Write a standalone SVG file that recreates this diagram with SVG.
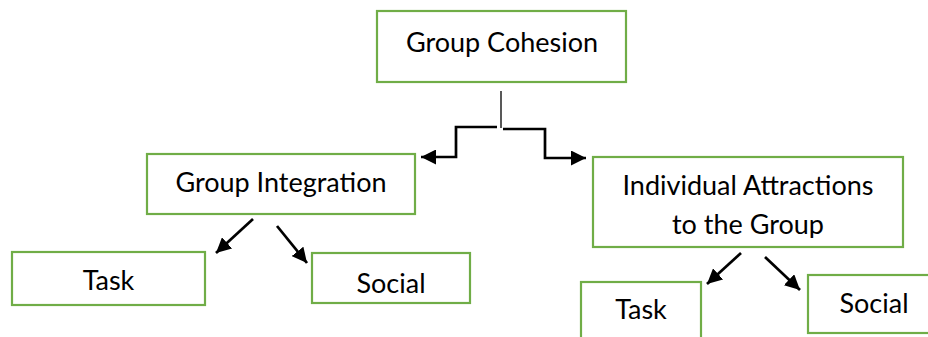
<svg xmlns="http://www.w3.org/2000/svg" width="928" height="337" viewBox="0 0 928 337">
<style>
.box{fill:#fff;stroke:#70AD47;stroke-width:2.2}
.t{font-family:Lato,"Open Sans","Liberation Sans",sans-serif;font-size:27px;fill:#000;text-anchor:middle}
.c{fill:none;stroke:#000;stroke-width:2.7}
</style>
<defs>
<marker id="ah" viewBox="0 0 10 10" refX="10" refY="5" markerWidth="15" markerHeight="15" markerUnits="userSpaceOnUse" orient="auto">
<path d="M0,0 L10,5 L0,10 z" fill="#000"/>
</marker>
<clipPath id="iaclip"><rect x="593" y="157" width="310" height="81"/></clipPath>
</defs>
<rect width="928" height="337" fill="#fff"/>
<g id="connectors">
<line x1="501" y1="91" x2="501" y2="128" stroke="#595959" stroke-width="2"/>
<path class="c" d="M497,127 H456 V157 H421" marker-end="url(#ah)"/>
<path class="c" d="M503,129 H545 V158 H586" marker-end="url(#ah)"/>
<line class="c" x1="253" y1="219" x2="216" y2="253" marker-end="url(#ah)"/>
<line class="c" x1="277" y1="226" x2="307" y2="263" marker-end="url(#ah)"/>
<line class="c" x1="741" y1="253" x2="707" y2="284" marker-end="url(#ah)"/>
<line class="c" x1="765" y1="257" x2="800" y2="290" marker-end="url(#ah)"/>
</g>
<g id="group-cohesion">
<rect class="box" x="377" y="11" width="249" height="71"/>
<text class="t" x="502" y="52">Group Cohesion</text>
</g>
<g id="group-integration">
<rect class="box" x="147" y="154" width="268" height="60"/>
<text class="t" x="281" y="192">Group Integration</text>
</g>
<g id="individual-attractions">
<rect class="box" x="593" y="157" width="310" height="90"/>
<text class="t" x="748" y="195">Individual Attractions</text>
<text class="t" x="748" y="234" clip-path="url(#iaclip)">to the Group</text>
</g>
<g id="gi-task">
<rect class="box" x="12" y="252" width="193" height="53"/>
<text class="t" x="108.5" y="290">Task</text>
</g>
<g id="gi-social">
<rect class="box" x="312" y="253" width="158" height="50"/>
<text class="t" x="391" y="293">Social</text>
</g>
<g id="ia-task">
<rect class="box" x="581" y="282" width="120" height="70"/>
<text class="t" x="641" y="319">Task</text>
</g>
<g id="ia-social">
<rect class="box" x="808" y="275" width="132" height="58"/>
<text class="t" x="874" y="313">Social</text>
</g>
</svg>
